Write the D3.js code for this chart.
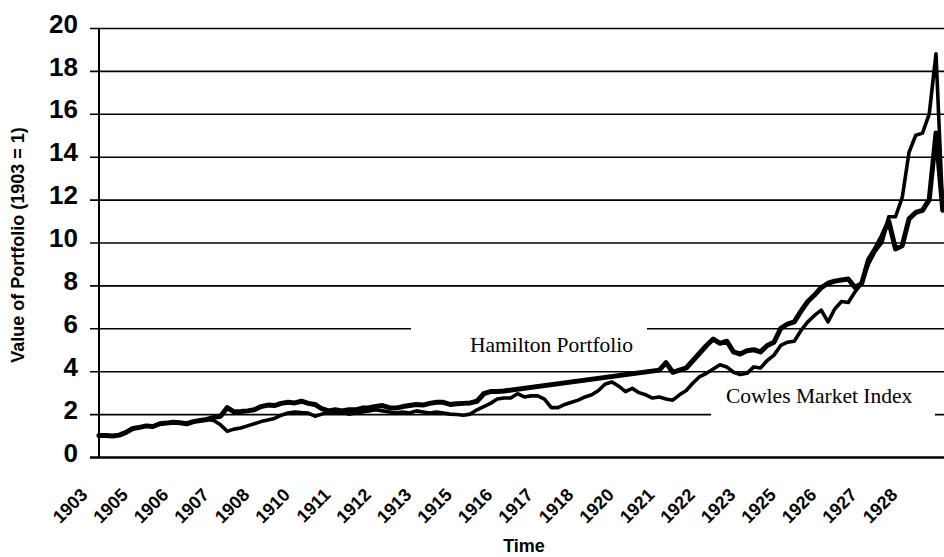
<!DOCTYPE html>
<html><head><meta charset="utf-8">
<script src="https://cdn.jsdelivr.net/npm/d3@7"></script>
<style>body{margin:0;background:#fff} svg{display:block}</style>
</head><body><svg id="c" width="944" height="557"></svg>
<script>
const tickLabels = ["1903","1905","1906","1907","1908","1910","1911","1912","1913","1915","1916","1917","1918","1920","1921","1922","1923","1925","1926","1927","1928"];
const yTicks = [0,2,4,6,8,10,12,14,16,18,20];
const seriesNames = ["Hamilton Portfolio","Cowles Market Index"];
const shared = [1.0,1.0,0.98,1.02,1.15,1.33,1.38,1.45,1.42,1.55,1.58,1.62,1.6,1.55,1.65,1.7,1.75];
const hamilton = shared.concat(
  [1.85,1.9,2.3,2.1,2.12,2.15,2.2,2.35,2.42,2.4],
  [2.5,2.55,2.52,2.6,2.5,2.45,2.25,2.15,2.2,2.15],
  [2.2,2.2,2.28,2.3,2.35,2.4,2.3,2.28,2.35,2.4],
  [2.45,2.42,2.5,2.55,2.55,2.45,2.48,2.5,2.52,2.6],
  [2.95,3.05,3.05,3.08],
  [null,null,null,null,null,null,null,null,null,null,null,null,null,null,null,null,null,null,null,null,null,null],
  [4.05,4.4,3.95,4.05,4.15,4.5,4.85,5.2,5.5,5.3],
  [5.4,4.9,4.8,4.95,5.0,4.9,5.2,5.35,6.0,6.2],
  [6.3,6.8,7.25,7.55,7.9,8.1,8.2,8.25,8.3,7.9],
  [8.1,9.2,9.7,10.3,11.0,9.7,9.85,11.1,11.4,11.5],
  [12.0,15.1,11.5,12.5]
);
const cowles = shared.concat(
  [1.7,1.5,1.2,1.3,1.35,1.45,1.55,1.65,1.72,1.8],
  [1.95,2.05,2.1,2.07,2.05,1.9,2.0,2.1,2.05,2.1],
  [2.0,2.05,2.1,2.15,2.2,2.15,2.1,2.05,2.1,2.05],
  [2.15,2.1,2.05,2.1,2.05,2.0,1.98,1.95,2.0,2.2],
  [2.35,2.5,2.7,2.75,2.75,2.95,2.8,2.85,2.85,2.7],
  [2.3,2.3,2.45,2.55,2.65,2.8,2.9,3.1,3.4,3.5],
  [3.3,3.05,3.2,3.0,2.9,2.75,2.8,2.7,2.65,2.9],
  [3.1,3.45,3.75,3.9,4.1,4.3,4.2,3.95,3.85,3.9],
  [4.2,4.15,4.5,4.75,5.2,5.35,5.4,5.9,6.3,6.6],
  [6.85,6.3,6.9,7.25,7.2,7.7,8.1,9.0,9.6,10.0],
  [11.2,11.2,12.1,14.2,15.0,15.1,16.0,18.8,11.5,13.5]
);
const labelStep = 6;

const W = 944, H = 557;
const sans = "'Liberation Sans', Arial, sans-serif";
const serif = "'Liberation Serif', 'Times New Roman', serif";
const svg = d3.select("#c");
svg.append("rect").attr("width", W).attr("height", H).attr("fill", "#fff");

const x = d3.scaleLinear().domain([0, (tickLabels.length - 1) * labelStep]).range([99, 909]);
const y = d3.scaleLinear().domain([0, 20]).range([457, 28]);

// y axis with gridlines
const gy = svg.append("g").attr("transform", "translate(99,0)")
  .call(d3.axisLeft(y).tickValues(yTicks).tickSizeOuter(0).tickFormat(d3.format("d")));
gy.select(".domain").remove();
gy.selectAll(".tick line").attr("x1", -9).attr("x2", W - 99)
  .attr("stroke", "#000").attr("stroke-width", d => d === 0 ? 2.4 : 1.6);
gy.selectAll(".tick text").attr("x", -21).attr("y", -5).attr("dy", "0.35em")
  .attr("text-anchor", "end").attr("fill", "#000")
  .style("font-family", sans).style("font-size", "26px").style("font-weight", "bold");

// label boxes
svg.append("rect").attr("x", 411).attr("y", 322).attr("width", 236).attr("height", 44).attr("fill", "#fff");
svg.append("rect").attr("x", 711).attr("y", 378).attr("width", 224).attr("height", 41).attr("fill", "#fff");
svg.append("text").attr("x", 470).attr("y", 352).text(seriesNames[0])
  .style("font-family", serif).style("font-size", "21.5px").attr("fill", "#000");
svg.append("text").attr("x", 726).attr("y", 403).text(seriesNames[1])
  .style("font-family", serif).style("font-size", "21.5px").attr("fill", "#000");

// series
const line = d3.line().x(d => x(d.i)).y(d => y(d.v));
const toPts = arr => arr.map((v, i) => ({i, v})).filter(d => d.v != null);
svg.append("path").datum(toPts(cowles)).attr("d", line)
  .attr("fill", "none").attr("stroke", "#000").attr("stroke-width", 3.6)
  .attr("stroke-linejoin", "round").attr("stroke-linecap", "round");
svg.append("path").datum(toPts(hamilton)).attr("d", line)
  .attr("fill", "none").attr("stroke", "#000").attr("stroke-width", 5)
  .attr("stroke-linejoin", "round").attr("stroke-linecap", "round");

// vertical axis line
svg.append("line").attr("x1", 99).attr("x2", 99).attr("y1", y(20)).attr("y2", y(0) + 1)
  .attr("stroke", "#000").attr("stroke-width", 2);

// x axis labels (rotated -45 degrees)
const c45 = Math.SQRT1_2;
const gx = svg.append("g").attr("class", "xlabels");
const lab = gx.selectAll("g").data(tickLabels).join("g")
  .attr("transform", (t, k) => `matrix(${c45},${-c45},${c45},${c45},${x(k * labelStep) - 10.5},496)`);
lab.append("text")
  .attr("x", 0).attr("y", 0)
  .attr("text-anchor", "end")
  .attr("fill", "#000")
  .style("font-family", sans).style("font-size", "18px").style("font-weight", "bold")
  .text(t => t);

// titles
svg.append("text").attr("x", 524).attr("y", 552).attr("text-anchor", "middle").text("Time")
  .style("font-family", sans).style("font-size", "18px").style("font-weight", "bold");
svg.append("text").attr("transform", "translate(24,245) rotate(-90)").attr("text-anchor", "middle")
  .text("Value of Portfolio (1903 = 1)")
  .style("font-family", sans).style("font-size", "18px").style("font-weight", "bold");
</script></body></html>
